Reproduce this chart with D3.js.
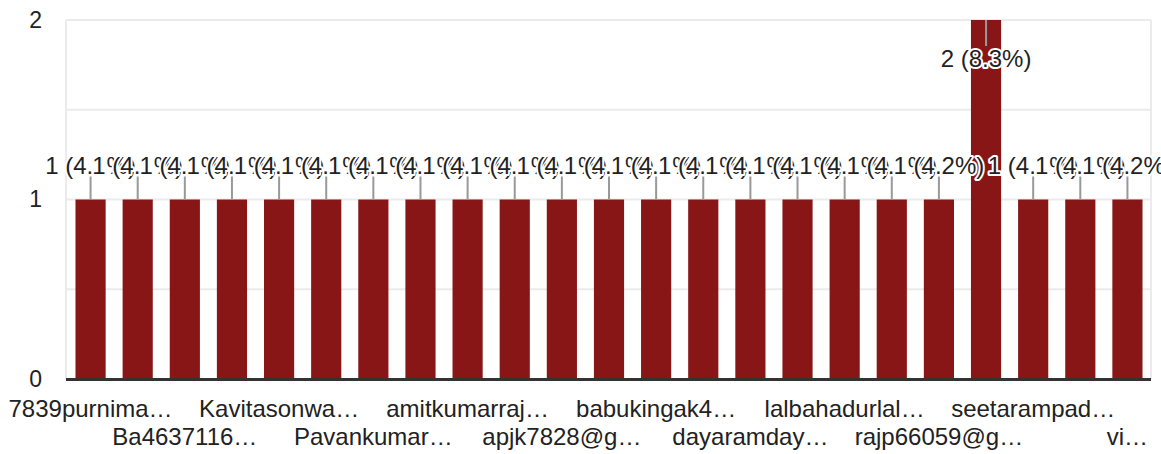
<!DOCTYPE html>
<html><head><meta charset="utf-8">
<script src="https://cdn.jsdelivr.net/npm/d3@7"></script>
<style>
html,body{margin:0;padding:0;background:#fff;}
svg{display:block;font-family:Arial,"Liberation Sans",sans-serif;}
</style></head>
<body>
<svg id="c" width="1161" height="454"></svg>
<script>
const categories = ["7839purnima…","a2","Ba4637116…","a4","Kavitasonwa…","a6","Pavankumar…","a8",
  "amitkumarraj…","a10","apjk7828@g…","a12","babukingak4…","a14","dayaramday…","a16",
  "lalbahadurlal…","a18","rajp66059@g…","a20","seetarampad…","a22","vi…"];
const values = [1,1,1,1,1,1,1,1,1,1,1,1,1,1,1,1,1,1,1,2,1,1,1];
const percents = ["4.1%","4.1%","4.1%","4.1%","4.1%","4.1%","4.1%","4.1%","4.1%","4.1%","4.1%","4.1%",
  "4.1%","4.1%","4.1%","4.1%","4.1%","4.1%","4.2%","8.3%","4.1%","4.1%","4.2%"];
const yTicks = [0,1,2];
const yGrid = [0.5,1,1.5,2];

const svg = d3.select("#c");
const L = 66, R = 1151, T = 20, B = 379;
const x = d3.scaleBand().domain(d3.range(categories.length)).range([L+1, R]).paddingInner(0.36).paddingOuter(0.18);
const y = d3.scaleLinear().domain([0,2]).range([B, T]);

// gridlines
svg.append("g").selectAll("line").data(yGrid).join("line")
  .attr("x1", L).attr("x2", R).attr("y1", d=>y(d)).attr("y2", d=>y(d))
  .attr("stroke", "#ebebeb").attr("stroke-width", 2);
svg.append("line").attr("x1", L).attr("x2", L).attr("y1", T).attr("y2", B).attr("stroke", "#ebebeb").attr("stroke-width", 2);
svg.append("line").attr("x1", R).attr("x2", R).attr("y1", T).attr("y2", B).attr("stroke", "#ebebeb").attr("stroke-width", 2);

// bars
svg.append("g").selectAll("rect").data(values).join("rect")
  .attr("x", (d,i)=>x(i)).attr("width", x.bandwidth())
  .attr("y", d=>y(d)).attr("height", d=>B - y(d))
  .attr("fill", "#881616");

// baseline
svg.append("line").attr("x1", L).attr("x2", R).attr("y1", B+0.5).attr("y2", B+0.5).attr("stroke", "#333").attr("stroke-width", 3);

// y axis labels
const yAxis = d3.axisLeft(y).tickValues(yTicks).tickSize(0).tickPadding(0).tickFormat(d3.format("d"));
const ya = svg.append("g").attr("transform", `translate(42,0)`).call(yAxis);
ya.select(".domain").remove();
ya.selectAll("text").attr("font-size", 23).attr("fill", "#222").attr("font-family", "Arial, 'Liberation Sans', sans-serif");

// x axis labels (every other, staggered)
const xl = svg.append("g");
categories.forEach((c,i)=>{
  if (i % 2) return;
  const row = (i/2) % 2;
  xl.append("text").attr("x", x(i)+x.bandwidth()/2).attr("y", row ? 445 : 416.5)
    .attr("text-anchor","middle").attr("font-size", 24).attr("fill", "#222").text(c);
});

// annotations
const ann = svg.append("g");
values.forEach((v,i)=>{
  const cx = x(i)+x.bandwidth()/2;
  const top = y(v);
  const inside = top - 40 < T;
  const stemEnd = inside ? top + 26 : top - 23;
  ann.append("line").attr("x1", cx).attr("x2", cx).attr("y1", top).attr("y2", stemEnd)
    .attr("stroke", "#999").attr("stroke-width", 2);
});
values.forEach((v,i)=>{
  const cx = x(i)+x.bandwidth()/2;
  const top = y(v);
  const inside = top - 40 < T;
  const base = inside ? top + 47 : top - 26;
  ann.append("text").attr("x", cx).attr("y", base).attr("text-anchor","middle")
    .attr("font-size", 24).attr("fill", "#222")
    .attr("stroke", "#fff").attr("stroke-width", 4).attr("paint-order", "stroke")
    .attr("stroke-linejoin","round")
    .text(`${v} (${percents[i]})`);
});
</script>
</body></html>
